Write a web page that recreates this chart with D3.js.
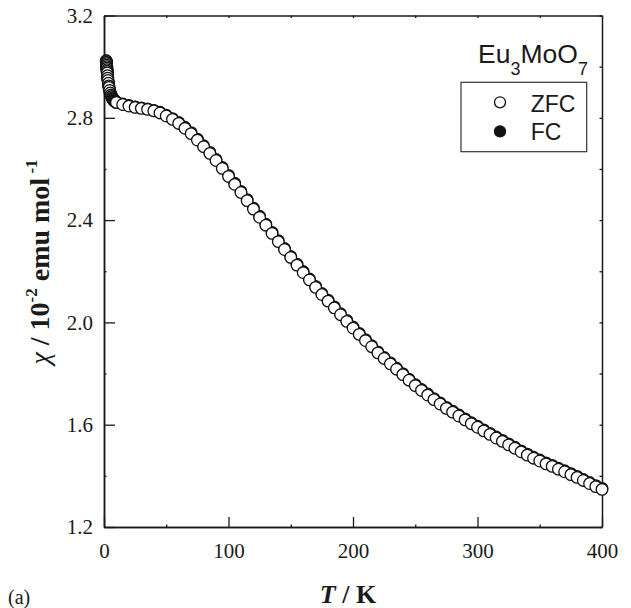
<!DOCTYPE html>
<html>
<head>
<meta charset="utf-8">
<script src="https://cdn.jsdelivr.net/npm/d3@7"></script>
<style>
  html, body { margin: 0; padding: 0; background: #fff; }
  svg { display: block; }
</style>
</head>
<body>
<svg id="chart" width="631" height="608"></svg>
<script>
// Temperature grid (K), shared by both runs
const temps = [
  1.8, 1.9, 2.0, 2.1, 2.2, 2.3, 2.4, 2.5, 2.6, 2.8, 3.0, 3.2, 3.5, 3.8, 4.0, 4.5,
  5.0, 5.5, 6.0, 6.5, 7.0, 7.5, 8.0, 8.5, 9.0, 9.5,
  10, 15, 20, 25, 30, 35, 40, 45, 50, 55, 60, 65, 70, 75, 80, 85, 90, 95,
  100, 105, 110, 115, 120, 125, 130, 135, 140, 145, 150, 155, 160, 165, 170, 175,
  180, 185, 190, 195, 200, 205, 210, 215, 220, 225, 230, 235, 240, 245, 250, 255,
  260, 265, 270, 275, 280, 285, 290, 295, 300, 305, 310, 315, 320, 325, 330, 335,
  340, 345, 350, 355, 360, 365, 370, 375, 380, 385, 390, 395, 400
];

// Zero-field-cooled susceptibility (10^-2 emu/mol)
const chiZFC = [
  3.022, 3.017, 3.012, 3.006, 3.000, 2.994, 2.988, 2.982, 2.976, 2.965, 2.955, 2.946, 2.935, 2.925, 2.919, 2.907,
  2.897, 2.889, 2.883, 2.878, 2.874, 2.870, 2.867, 2.865, 2.863, 2.861,
  2.860, 2.852, 2.846, 2.841, 2.837, 2.833, 2.827, 2.819, 2.807, 2.794, 2.778, 2.759, 2.738, 2.713, 2.687, 2.661, 2.633, 2.602,
  2.571, 2.540, 2.508, 2.476, 2.443, 2.411, 2.380, 2.348, 2.316, 2.285, 2.254, 2.224, 2.195, 2.166, 2.137, 2.109,
  2.083, 2.057, 2.030, 2.004, 1.978, 1.953, 1.929, 1.905, 1.881, 1.859, 1.838, 1.817, 1.796, 1.774, 1.753, 1.734,
  1.716, 1.698, 1.681, 1.664, 1.649, 1.634, 1.619, 1.604, 1.590, 1.576, 1.562, 1.548, 1.535, 1.521, 1.508, 1.494,
  1.481, 1.469, 1.458, 1.447, 1.437, 1.426, 1.416, 1.405, 1.394, 1.382, 1.370, 1.358, 1.347
];

// Field-cooled susceptibility (10^-2 emu/mol)
const chiFC = [
  3.023, 3.018, 3.013, 3.007, 3.001, 2.995, 2.989, 2.983, 2.977, 2.966, 2.956, 2.947, 2.936, 2.927, 2.921, 2.909,
  2.899, 2.891, 2.885, 2.880, 2.876, 2.872, 2.869, 2.867, 2.865, 2.863,
  2.862, 2.854, 2.848, 2.843, 2.839, 2.835, 2.829, 2.822, 2.810, 2.797, 2.782, 2.763, 2.742, 2.717, 2.691, 2.665, 2.637, 2.606,
  2.575, 2.544, 2.512, 2.480, 2.447, 2.415, 2.384, 2.352, 2.320, 2.289, 2.258, 2.228, 2.199, 2.170, 2.141, 2.113,
  2.087, 2.061, 2.034, 2.008, 1.982, 1.957, 1.933, 1.909, 1.885, 1.863, 1.842, 1.821, 1.800, 1.778, 1.757, 1.738,
  1.720, 1.702, 1.685, 1.668, 1.653, 1.638, 1.623, 1.608, 1.594, 1.580, 1.566, 1.552, 1.539, 1.525, 1.512, 1.498,
  1.485, 1.473, 1.462, 1.451, 1.441, 1.430, 1.420, 1.409, 1.398, 1.386, 1.374, 1.362, 1.351
];

// Axis ticks
const xMajorTicks = [0, 100, 200, 300, 400];
const xMinorTicks = [50, 150, 250, 350];
const xTopTicks = [0, 50, 100, 150, 200, 250, 300, 350, 400];
const yMajorTicks = [1.2, 1.6, 2.0, 2.4, 2.8, 3.2];
const yMinorTicks = [1.4, 1.8, 2.2, 2.6, 3.0];
const yRightTicks = [1.2, 1.4, 1.6, 1.8, 2.0, 2.2, 2.4, 2.6, 2.8, 3.0, 3.2];

const seriesNames = ["ZFC", "FC"];

const svg = d3.select("#chart");
const plotLeft = 104, plotRight = 602, plotTop = 15.5, plotBottom = 527;

const x = d3.scaleLinear().domain([0, 400]).range([plotLeft, plotRight]);
const y = d3.scaleLinear().domain([1.2, 3.2]).range([plotBottom, plotTop]);

const ink = "#1a1a1a";
const serif = "'Liberation Serif', 'Times New Roman', serif";
const sans = "'Liberation Sans', Arial, sans-serif";

function styleAxis(g) {
  g.select(".domain").attr("stroke", ink).attr("stroke-width", 1.5);
  g.selectAll(".tick line").attr("stroke", ink).attr("stroke-width", 1.3);
  g.selectAll(".tick text").attr("fill", ink).attr("font-family", serif).attr("font-size", 21);
}

// Left axis: major ticks with labels, tiny minor ticks
svg.append("g").attr("transform", `translate(${plotLeft},0)`)
  .call(d3.axisLeft(y).tickValues(yMajorTicks).tickFormat(d3.format(".1f"))
    .tickSizeInner(-11).tickSizeOuter(0).tickPadding(11))
  .call(styleAxis);
svg.append("g").attr("transform", `translate(${plotLeft},0)`)
  .call(d3.axisLeft(y).tickValues(yMinorTicks).tickFormat("").tickSizeInner(-2.5).tickSizeOuter(0))
  .call(styleAxis);

// Bottom axis
svg.append("g").attr("transform", `translate(0,${plotBottom})`)
  .call(d3.axisBottom(x).tickValues(xMajorTicks).tickFormat(d3.format("d"))
    .tickSizeInner(-10).tickSizeOuter(0).tickPadding(16))
  .call(styleAxis);
svg.append("g").attr("transform", `translate(0,${plotBottom})`)
  .call(d3.axisBottom(x).tickValues(xMinorTicks).tickFormat("").tickSizeInner(-2.5).tickSizeOuter(0))
  .call(styleAxis);

// Top and right frame with small inward ticks
svg.append("g").attr("transform", `translate(0,${plotTop})`)
  .call(d3.axisTop(x).tickValues(xTopTicks).tickFormat("").tickSizeInner(-2.5).tickSizeOuter(0))
  .call(styleAxis);
svg.append("g").attr("transform", `translate(${plotRight},0)`)
  .call(d3.axisRight(y).tickValues(yRightTicks).tickFormat("").tickSizeInner(-2.5).tickSizeOuter(0))
  .call(styleAxis);

// Data: FC filled circles underneath, ZFC open circles on top
const r = 5.8;
const fcData = temps.map((t, i) => ({ t, v: chiFC[i] }));
const zfcData = temps.map((t, i) => ({ t, v: chiZFC[i] }));

svg.append("g").selectAll("circle").data(fcData).join("circle")
  .attr("cx", d => x(d.t)).attr("cy", d => y(d.v)).attr("r", r)
  .attr("fill", "#111").attr("stroke", "#111").attr("stroke-width", 1.2);

svg.append("g").selectAll("circle").data(zfcData).join("circle")
  .attr("cx", d => x(d.t)).attr("cy", d => y(d.v)).attr("r", r)
  .attr("fill", "#fff").attr("stroke", "#111").attr("stroke-width", 1.3);

// Compound label
const formula = svg.append("text")
  .attr("x", 478).attr("y", 62.7)
  .attr("font-family", sans).attr("font-size", 26.5).attr("fill", ink);
formula.append("tspan").text("Eu");
formula.append("tspan").attr("font-size", 18).attr("dy", 12).text("3");
formula.append("tspan").attr("dy", -12).text("MoO");
formula.append("tspan").attr("font-size", 18).attr("dy", 12).text("7");

// Legend
svg.append("rect")
  .attr("x", 461).attr("y", 82.3).attr("width", 125.7).attr("height", 69.4)
  .attr("fill", "#fff").attr("stroke", "#333").attr("stroke-width", 1.2);

const legendRows = [
  { name: seriesNames[0], fill: "#fff", cy: 102.3, ty: 111.7 },
  { name: seriesNames[1], fill: "#111", cy: 131.3, ty: 140 }
];
legendRows.forEach(row => {
  svg.append("circle").attr("cx", 500).attr("cy", row.cy).attr("r", 5.5)
    .attr("fill", row.fill).attr("stroke", "#111").attr("stroke-width", 1.3);
  svg.append("text").attr("x", 530.7).attr("y", row.ty)
    .attr("font-family", sans).attr("font-size", 23).attr("fill", ink).text(row.name);
});

// Axis titles
const xTitle = svg.append("text")
  .attr("x", 348).attr("y", 603).attr("text-anchor", "middle")
  .attr("font-family", serif).attr("font-size", 26).attr("font-weight", "bold").attr("fill", ink);
xTitle.append("tspan").attr("font-style", "italic").text("T");
xTitle.append("tspan").text(" / K");

const yTitle = svg.append("text")
  .attr("transform", "translate(49,262) rotate(-90)").attr("text-anchor", "middle")
  .attr("font-family", serif).attr("font-size", 28).attr("font-weight", "bold").attr("fill", ink);
yTitle.append("tspan").attr("font-style", "italic").attr("font-weight", "normal").text("χ");
yTitle.append("tspan").text(" / 10");
yTitle.append("tspan").attr("font-size", 17).attr("dy", -12).text("-2");
yTitle.append("tspan").attr("dy", 12).text(" emu mol");
yTitle.append("tspan").attr("font-size", 17).attr("dy", -12).text(" -1");

// Panel tag
svg.append("text").attr("x", 8).attr("y", 604)
  .attr("font-family", serif).attr("font-size", 20).attr("fill", ink).text("(a)");
</script>
</body>
</html>
